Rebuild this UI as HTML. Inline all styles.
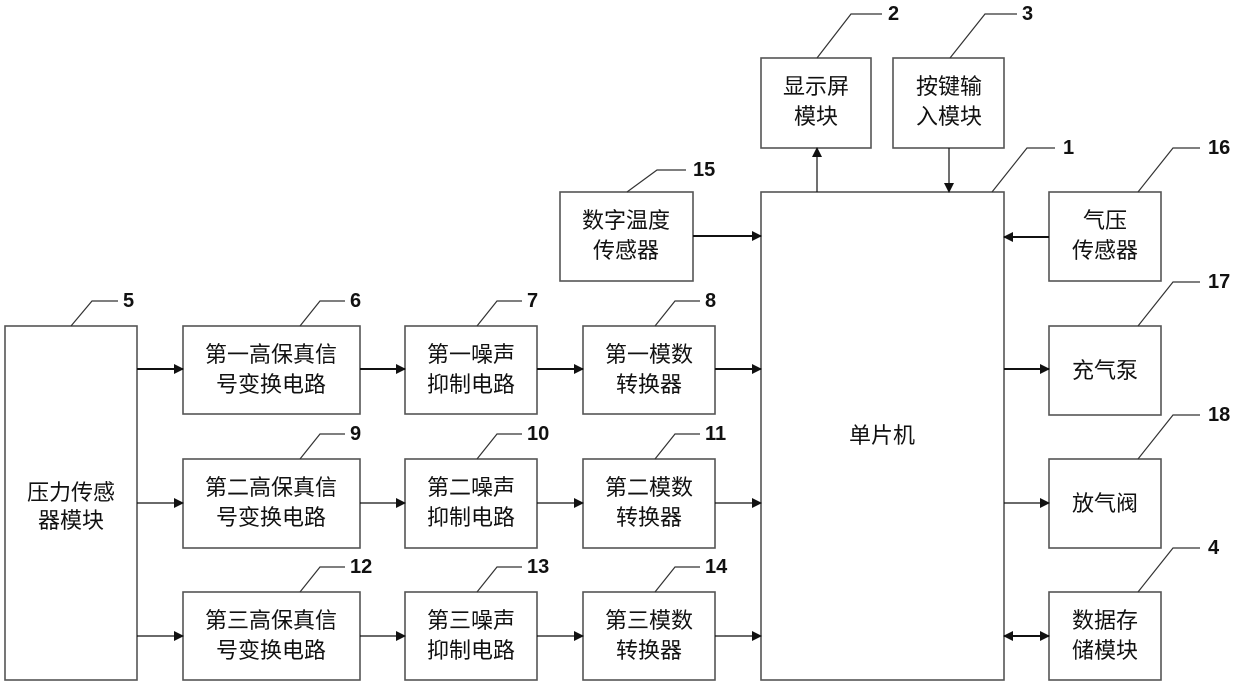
<!DOCTYPE html>
<html><head><meta charset="utf-8"><style>
html,body{margin:0;padding:0;background:#fff;}
svg{display:block;}
text{font-family:"Liberation Sans","Noto Sans CJK SC",sans-serif;fill:#111;}
.b{fill:#fff;stroke:#555;stroke-width:1.6;}
.l{stroke:#333;stroke-width:1.2;fill:none;}
.a{stroke:#111;stroke-width:2;fill:none;}
.t{font-size:22px;text-anchor:middle;}
.n{font-size:20px;font-weight:bold;dominant-baseline:central;}
</style></head><body>
<svg width="1240" height="687" viewBox="0 0 1240 687">
<defs>
<marker id="m" markerWidth="10" markerHeight="10" refX="9" refY="5" orient="auto" markerUnits="userSpaceOnUse"><path d="M0,0 L10,5 L0,10 Z" fill="#111"/></marker>
<marker id="ms" markerWidth="10" markerHeight="10" refX="1" refY="5" orient="auto" markerUnits="userSpaceOnUse"><path d="M10,0 L0,5 L10,10 Z" fill="#111"/></marker>
</defs>
<!-- boxes -->
<rect class="b" x="5" y="326" width="132" height="354"/>
<text class="t" x="71" y="500">压力传感</text><text class="t" x="71" y="528">器模块</text>

<rect class="b" x="183" y="326" width="177" height="88"/>
<text class="t" x="271" y="362">第一高保真信</text><text class="t" x="271" y="392">号变换电路</text>
<rect class="b" x="183" y="459" width="177" height="89"/>
<text class="t" x="271" y="495">第二高保真信</text><text class="t" x="271" y="525">号变换电路</text>
<rect class="b" x="183" y="592" width="177" height="88"/>
<text class="t" x="271" y="628">第三高保真信</text><text class="t" x="271" y="658">号变换电路</text>

<rect class="b" x="405" y="326" width="132" height="88"/>
<text class="t" x="471" y="362">第一噪声</text><text class="t" x="471" y="392">抑制电路</text>
<rect class="b" x="405" y="459" width="132" height="89"/>
<text class="t" x="471" y="495">第二噪声</text><text class="t" x="471" y="525">抑制电路</text>
<rect class="b" x="405" y="592" width="132" height="88"/>
<text class="t" x="471" y="628">第三噪声</text><text class="t" x="471" y="658">抑制电路</text>

<rect class="b" x="583" y="326" width="132" height="88"/>
<text class="t" x="649" y="362">第一模数</text><text class="t" x="649" y="392">转换器</text>
<rect class="b" x="583" y="459" width="132" height="89"/>
<text class="t" x="649" y="495">第二模数</text><text class="t" x="649" y="525">转换器</text>
<rect class="b" x="583" y="592" width="132" height="88"/>
<text class="t" x="649" y="628">第三模数</text><text class="t" x="649" y="658">转换器</text>

<rect class="b" x="560" y="192" width="133" height="89"/>
<text class="t" x="626" y="228">数字温度</text><text class="t" x="626" y="258">传感器</text>

<rect class="b" x="761" y="192" width="243" height="488"/>
<text class="t" x="882" y="443">单片机</text>

<rect class="b" x="761" y="58" width="110" height="90"/>
<text class="t" x="816" y="94">显示屏</text><text class="t" x="816" y="124">模块</text>
<rect class="b" x="893" y="58" width="111" height="90"/>
<text class="t" x="949" y="94">按键输</text><text class="t" x="949" y="124">入模块</text>

<rect class="b" x="1049" y="192" width="112" height="89"/>
<text class="t" x="1105" y="228">气压</text><text class="t" x="1105" y="258">传感器</text>
<rect class="b" x="1049" y="326" width="112" height="89"/>
<text class="t" x="1105" y="378">充气泵</text>
<rect class="b" x="1049" y="459" width="112" height="89"/>
<text class="t" x="1105" y="511">放气阀</text>
<rect class="b" x="1049" y="592" width="112" height="88"/>
<text class="t" x="1105" y="628">数据存</text><text class="t" x="1105" y="658">储模块</text>

<!-- arrows -->
<g class="a" marker-end="url(#m)">
<line x1="137" y1="369" x2="183" y2="369"/>
<line x1="137" y1="503" x2="183" y2="503" style="stroke-width:1.3"/>
<line x1="137" y1="636" x2="183" y2="636" style="stroke-width:1.3"/>
<line x1="360" y1="369" x2="405" y2="369"/>
<line x1="360" y1="503" x2="405" y2="503" style="stroke-width:1.3"/>
<line x1="360" y1="636" x2="405" y2="636" style="stroke-width:1.3"/>
<line x1="537" y1="369" x2="583" y2="369"/>
<line x1="537" y1="503" x2="583" y2="503" style="stroke-width:1.3"/>
<line x1="537" y1="636" x2="583" y2="636" style="stroke-width:1.3"/>
<line x1="715" y1="369" x2="761" y2="369"/>
<line x1="715" y1="503" x2="761" y2="503" style="stroke-width:1.3"/>
<line x1="715" y1="636" x2="761" y2="636" style="stroke-width:1.3"/>
<line x1="693" y1="236" x2="761" y2="236"/>
<line x1="1049" y1="237" x2="1004" y2="237"/>
<line x1="817" y1="192" x2="817" y2="148" style="stroke-width:1.2"/>
<line x1="949" y1="148" x2="949" y2="192" style="stroke-width:1.2"/>
<line x1="1004" y1="369" x2="1049" y2="369"/>
<line x1="1004" y1="503" x2="1049" y2="503" style="stroke-width:1.3"/>
<line x1="1004" y1="636" x2="1049" y2="636" marker-start="url(#ms)"/>
</g>

<!-- leaders -->
<g class="l">
<polyline points="71,326 92,301 118,301"/>
<polyline points="300,326 320,301 345,301"/>
<polyline points="300,459 320,434 345,434"/>
<polyline points="300,592 320,567 345,567"/>
<polyline points="477,326 497,301 522,301"/>
<polyline points="477,459 497,434 522,434"/>
<polyline points="477,592 497,567 522,567"/>
<polyline points="655,326 675,301 700,301"/>
<polyline points="655,459 675,434 700,434"/>
<polyline points="655,592 675,567 700,567"/>
<polyline points="627,192 657,170 686,170"/>
<polyline points="817,58 851,14 882,14"/>
<polyline points="950,58 985,14 1017,14"/>
<polyline points="992,192 1027,148 1055,148"/>
<polyline points="1138,192 1173,148 1200,148"/>
<polyline points="1138,326 1173,282 1200,282"/>
<polyline points="1138,459 1173,415 1200,415"/>
<polyline points="1138,592 1173,548 1200,548"/>
</g>
<text class="n" x="123" y="301">5</text>
<text class="n" x="350" y="301">6</text>
<text class="n" x="350" y="434">9</text>
<text class="n" x="350" y="567">12</text>
<text class="n" x="527" y="301">7</text>
<text class="n" x="527" y="434">10</text>
<text class="n" x="527" y="567">13</text>
<text class="n" x="705" y="301">8</text>
<text class="n" x="705" y="434">11</text>
<text class="n" x="705" y="567">14</text>
<text class="n" x="693" y="170">15</text>
<text class="n" x="888" y="14">2</text>
<text class="n" x="1022" y="14">3</text>
<text class="n" x="1063" y="148">1</text>
<text class="n" x="1208" y="148">16</text>
<text class="n" x="1208" y="282">17</text>
<text class="n" x="1208" y="415">18</text>
<text class="n" x="1208" y="548">4</text>
</svg>
</body></html>
